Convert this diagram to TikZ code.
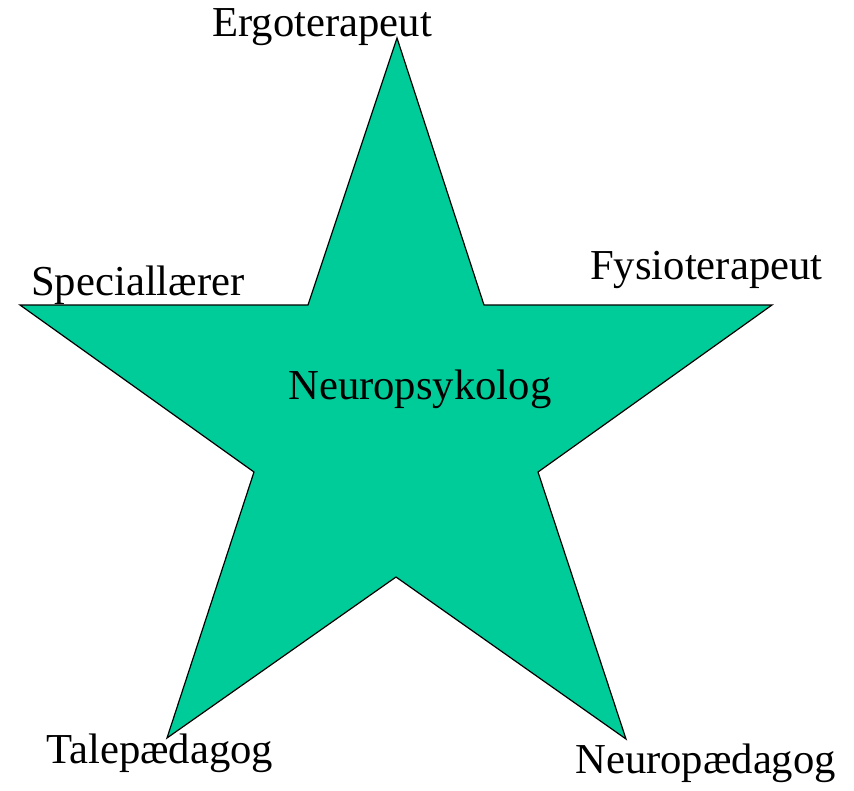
\documentclass[tikz,border=0pt]{standalone}
\usepackage{fontspec}
\setmainfont{Liberation Serif}
\definecolor{stargreen}{HTML}{00CC99}
\begin{document}
\begin{tikzpicture}[x=0.75pt,y=-0.75pt,
  lbl/.style={anchor=base west,inner sep=0pt,font=\fontsize{32}{38}\selectfont}]
\useasboundingbox (0,0) rectangle (854,790);
\coordinate (p1) at (397,38);
\coordinate (q1) at (484,305);
\coordinate (p2) at (772,305);
\coordinate (q2) at (538,472);
\coordinate (p3) at (626,739);
\coordinate (q3) at (396,577);
\coordinate (p4) at (167,738);
\coordinate (q4) at (254,472);
\coordinate (p5) at (20,305);
\coordinate (q5) at (308,305);
\draw[fill=stargreen,line width=0.9pt,line join=miter] (p1) -- (q1) -- (p2) -- (q2) -- (p3) -- (q3) -- (p4) -- (q4) -- (p5) -- (q5) -- cycle;
\node[lbl] (ergo) at (212,36) {Ergoterapeut};
\node[lbl] (spec) at (31,295) {Speciallærer};
\node[lbl] (fys) at (590,279) {Fysioterapeut};
\node[lbl] (neuro) at (288,399) {Neuropsykolog};
\node[lbl] (tale) at (46,763) {Talepædagog};
\node[lbl] (neurop) at (575,773) {Neuropædagog};
\end{tikzpicture}
\end{document}
